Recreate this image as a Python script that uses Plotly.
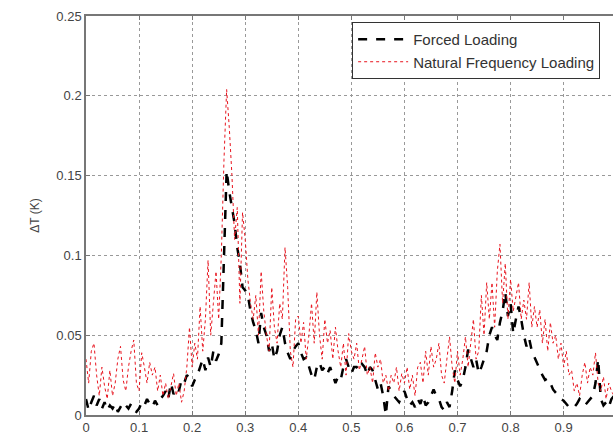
import numpy as np
import plotly.graph_objects as go

x_vals = np.round(np.arange(0, 1.0001, 0.005), 3)

natural_loading = [
    0.035, 0.02, 0.04, 0.045, 0.025, 0.012, 0.03, 0.018, 0.01, 0.028,
    0.012, 0.02, 0.035, 0.043, 0.022, 0.015, 0.03, 0.04, 0.047, 0.02,
    0.015, 0.039, 0.03, 0.02, 0.033, 0.025, 0.03, 0.015, 0.025, 0.012,
    0.02, 0.01, 0.018, 0.026, 0.012, 0.02, 0.008, 0.015, 0.03, 0.055,
    0.03, 0.045, 0.035, 0.068, 0.04, 0.06, 0.097, 0.05, 0.07, 0.09,
    0.06, 0.1, 0.16, 0.204, 0.18, 0.15, 0.11, 0.13, 0.07, 0.127,
    0.11, 0.085, 0.07, 0.06, 0.075, 0.05, 0.09, 0.065, 0.05, 0.04,
    0.08, 0.055, 0.045, 0.07, 0.06, 0.105, 0.08, 0.04, 0.03, 0.06,
    0.062, 0.045, 0.058, 0.035, 0.05, 0.07, 0.045, 0.077, 0.05, 0.035,
    0.06, 0.045, 0.053, 0.035, 0.055, 0.04, 0.03, 0.045, 0.025, 0.051,
    0.04, 0.035, 0.045, 0.028, 0.035, 0.043, 0.025, 0.03, 0.02, 0.039,
    0.03, 0.035, 0.02, 0.025, 0.015, 0.025, 0.02, 0.03, 0.015, 0.026,
    0.02, 0.03, 0.016, 0.025, 0.012, 0.03, 0.033, 0.02, 0.04, 0.025,
    0.043, 0.03, 0.035, 0.045, 0.025, 0.02, 0.035, 0.049, 0.03, 0.02,
    0.04, 0.025, 0.035, 0.049, 0.03, 0.045, 0.06, 0.035, 0.04, 0.075,
    0.05, 0.083, 0.06, 0.083, 0.055, 0.09, 0.107, 0.07, 0.095, 0.06,
    0.085, 0.065, 0.075, 0.083, 0.06, 0.072, 0.06, 0.083, 0.055, 0.068,
    0.055, 0.066, 0.045, 0.06, 0.04, 0.058, 0.045, 0.05, 0.035, 0.045,
    0.03, 0.04, 0.025, 0.028, 0.015, 0.02, 0.012, 0.025, 0.033, 0.02,
    0.03, 0.025, 0.039, 0.02, 0.015, 0.024, 0.01, 0.02, 0.015, 0.012,
    0.02,
]

forced_loading = [
    0.01, 0.003, 0.008, 0.012, 0.006, 0.01, 0.004, 0.008, 0.003, 0.006,
    0.004, 0.007, 0.002, 0.005, 0.008, 0.006, 0.004, 0.007, 0.003, 0.002,
    0.004, 0.008, 0.006, 0.01, 0.007, 0.005, 0.009, 0.006, 0.01, 0.012,
    0.015, 0.01, 0.02, 0.013, 0.017, 0.015, 0.022, 0.02, 0.025, 0.023,
    0.018, 0.022, 0.025, 0.03, 0.035, 0.028, 0.036, 0.03, 0.04, 0.034,
    0.038, 0.045, 0.1, 0.153, 0.14, 0.13, 0.12, 0.105, 0.095, 0.08,
    0.078, 0.075, 0.065, 0.058, 0.053, 0.045, 0.064, 0.055, 0.05, 0.04,
    0.045, 0.035, 0.04, 0.05, 0.055, 0.045, 0.039, 0.035, 0.04, 0.043,
    0.045, 0.039, 0.035, 0.036, 0.03, 0.025, 0.022, 0.03, 0.033, 0.028,
    0.03, 0.026, 0.03, 0.025, 0.02, 0.024, 0.022, 0.03, 0.035, 0.03,
    0.026, 0.03, 0.03, 0.028, 0.032, 0.03, 0.025, 0.03, 0.028, 0.022,
    0.016, 0.02, 0.012, 0.0, 0.018, 0.015, 0.012, 0.01, 0.008, 0.012,
    0.015, 0.01, 0.006, 0.008, 0.005, 0.01, 0.007, 0.012, 0.006, 0.008,
    0.012, 0.016, 0.012, 0.01, 0.005, 0.003, 0.008, 0.005, 0.015, 0.028,
    0.022, 0.018, 0.022, 0.03, 0.041, 0.035, 0.03, 0.035, 0.026, 0.03,
    0.035, 0.04, 0.05, 0.055, 0.05, 0.047, 0.058, 0.065, 0.077, 0.062,
    0.07, 0.051, 0.06, 0.068, 0.06, 0.05, 0.043, 0.048, 0.04, 0.036,
    0.033, 0.028, 0.025, 0.022, 0.023, 0.02, 0.016, 0.014, 0.012, 0.01,
    0.009, 0.007, 0.005, 0.006, 0.005, 0.007, 0.01, 0.008, 0.006, 0.008,
    0.01, 0.012, 0.02, 0.035, 0.01, 0.006, 0.008, 0.005, 0.01, 0.012,
    0.008,
]

x_ticks = [0, 0.1, 0.2, 0.3, 0.4, 0.5, 0.6, 0.7, 0.8, 0.9]
x_tick_labels = ["0", "0.1", "0.2", "0.3", "0.4", "0.5", "0.6", "0.7", "0.8", "0.9"]
y_ticks = [0, 0.05, 0.1, 0.15, 0.2, 0.25]
y_tick_labels = ["0", "0.05", "0.1", "0.15", "0.2", "0.25"]

fig = go.Figure()
fig.add_trace(go.Scatter(
    x=x_vals, y=forced_loading, mode="lines", name="Forced Loading",
    line=dict(color="black", width=2.5, dash="dash"),
))
fig.add_trace(go.Scatter(
    x=x_vals, y=natural_loading, mode="lines", name="Natural Frequency Loading",
    line=dict(color="#e8141e", width=1, dash="dot"),
))

axis_font = dict(family="Liberation Sans, Arial, sans-serif", size=13, color="#444")

fig.update_layout(
    width=613, height=439,
    margin=dict(l=86, r=0, t=16, b=24),
    paper_bgcolor="white", plot_bgcolor="white",
    font=axis_font,
    showlegend=True,
    legend=dict(
        x=0.505, y=0.985, xanchor="left", yanchor="top",
        bgcolor="white", bordercolor="#333", borderwidth=1,
        font=dict(family="Liberation Sans, Arial, sans-serif", size=15, color="#333"),
        tracegroupgap=0, itemwidth=50,
    ),
    xaxis=dict(
        range=[0, 0.993], tickvals=x_ticks, ticktext=x_tick_labels,
        showgrid=True, gridcolor="#999", griddash="dot", gridwidth=1,
        showline=True, linecolor="#777", linewidth=1.5, mirror="ticks",
        ticks="inside", ticklen=4, tickcolor="#777",
        zeroline=False, tickfont=axis_font,
    ),
    yaxis=dict(
        range=[0, 0.25], tickvals=y_ticks, ticktext=y_tick_labels,
        showgrid=True, gridcolor="#999", griddash="dot", gridwidth=1,
        showline=True, linecolor="#777", linewidth=1.5,
        ticks="inside", ticklen=4, tickcolor="#777",
        zeroline=False, tickfont=axis_font,
        title=dict(text="ΔT (K)", font=dict(family="Liberation Sans, Arial, sans-serif", size=12, color="#444"), standoff=14),
    ),
)

fig.write_html("out.html")
